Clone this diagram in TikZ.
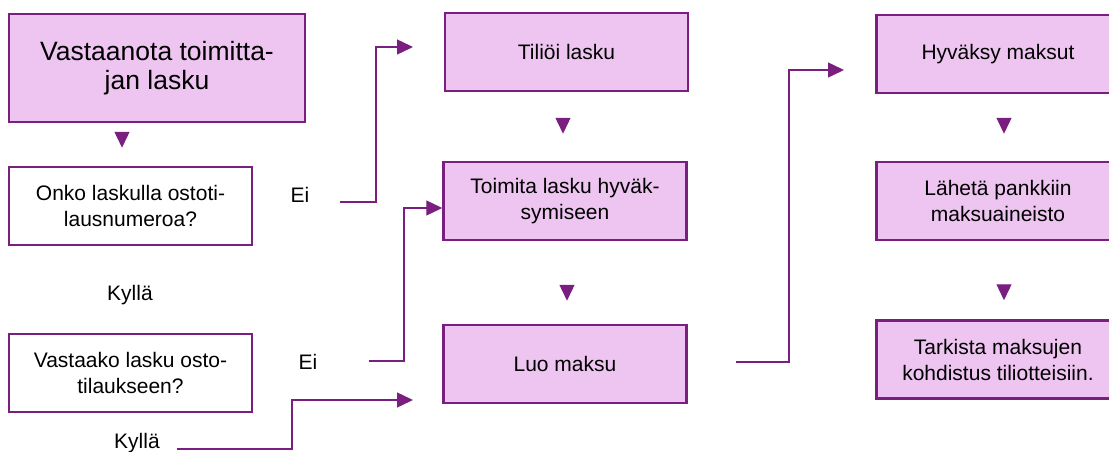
\documentclass[tikz,border=0pt]{standalone}
\usepackage{fontspec}
\setmainfont{Liberation Sans}
\usetikzlibrary{arrows.meta}
\definecolor{pborder}{RGB}{122,31,128}
\definecolor{pfill}{RGB}{238,196,241}
\begin{document}
\begin{tikzpicture}[x=1pt,y=1pt,
  box/.style={draw=pborder,line width=2.5pt,minimum width=243pt,minimum height=78pt,inner sep=0pt,align=center,font=\fontsize{21}{26}\selectfont},
  fbox/.style={box,fill=pfill},
  lbl/.style={inner sep=0pt,font=\fontsize{21}{26}\selectfont},
  conn/.style={draw=pborder,line width=1.4pt,-{Triangle[length=16pt,width=15pt]}},
  dn/.style={draw=pborder,line width=1.4pt,-{Triangle[length=16pt,width=15pt]}}]
\useasboundingbox (0,0) rectangle (1109,-452);
% left column
\node[fbox,minimum width=296pt,minimum height=108pt,font=\fontsize{26.5}{29}\selectfont] (A) at (157,-68) {Vastaanota toimitta-\\jan lasku};
\node[box] (B) at (130.5,-206) {Onko laskulla ostoti-\\lausnumeroa?};
\node[lbl] (K1) at (130,-295) {Kyllä};
\node[box] (C) at (130.5,-373) {Vastaako lasku osto-\\tilaukseen?};
\node[lbl] (E1) at (300,-195) {Ei};
\node[lbl] (E2) at (308,-362) {Ei};
\node[lbl] (K2) at (137,-443) {Kyllä};
% middle column
\node[fbox] (D) at (566.5,-52) {Tiliöi lasku};
\node[fbox] (E) at (565,-201) {Toimita lasku hyväk-\\symiseen};
\node[fbox] (F) at (565,-364) {Luo maksu};
% right column
\node[fbox] (G) at (998,-54) {Hyväksy maksut};
\node[fbox] (H) at (998,-201) {Lähetä pankkiin\\maksuaineisto};
\node[fbox] (I) at (998,-359.5) {Tarkista maksujen\\kohdistus tiliotteisiin.};
% free ends
\coordinate (t1) at (413,-47);
\coordinate (t3) at (413,-400);
\coordinate (t4) at (844,-70);
% connectors
\draw[conn] ([shift={(30,-7)}]E1.east) -| (376,-47) -- (t1);
\draw[conn] ([shift={(51,1)}]E2.east) -| (404,-208) -- (E.west |- 0,-208);
\draw[conn] ([shift={(17,-6)}]K2.east) -| (292,-400) -- (t3);
\draw[conn] ([shift={(48,2)}]F.east) -| (789,-70) -- (t4);
% vertical arrows
\draw[dn] ([shift={(-35,-10)}]A.south) -- ([shift={(-8.5,18)}]B.north);
\draw[dn] ([shift={(-3.5,-27)}]D.south) -- ([shift={(-2,27)}]E.north);
\draw[dn] ([shift={(2,-45)}]E.south) -- ([shift={(2,23)}]F.north);
\draw[dn] ([shift={(6,-25)}]G.south) -- ([shift={(6,27)}]H.north);
\draw[dn] ([shift={(6,-45)}]H.south) -- ([shift={(6,19)}]I.north);
\end{tikzpicture}
\end{document}
